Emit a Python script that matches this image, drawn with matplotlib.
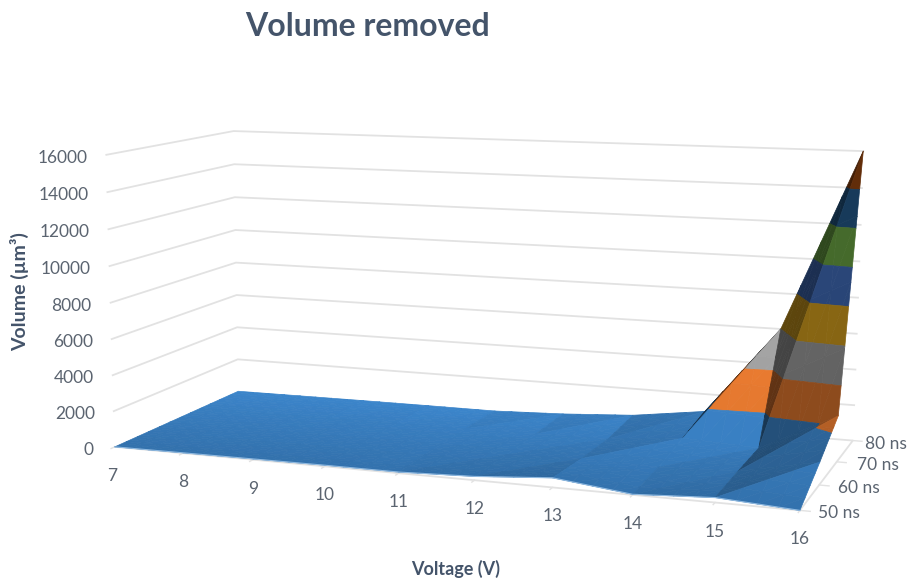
import numpy as np
import matplotlib
matplotlib.use("Agg")
import matplotlib.pyplot as plt
from mpl_toolkits.mplot3d import proj3d
from mpl_toolkits.mplot3d.art3d import Poly3DCollection

# Chart values
voltages = [7, 8, 9, 10, 11, 12, 13, 14, 15, 16]
pulse_ns = [50, 60, 70, 80]
pulse_labels = ["50 ns", "60 ns", "70 ns", "80 ns"]
volume_50ns = [0, 20, 40, 60, 60, 200, 500, 30, 250, 0]
volume_60ns = [0, 30, 50, 70, 90, 150, 300, 200, 350, 1200]
volume_70ns = [0, 30, 60, 90, 110, 150, 220, 600, 400, 2500]
volume_80ns = [0, 20, 40, 50, 50, 200, 450, 1000, 6000, 16000]
volume_ticks = [0, 2000, 4000, 6000, 8000, 10000, 12000, 14000, 16000]
band_colors = ["#3c86cc", "#ED7D31", "#A5A5A5", "#E0A820",
               "#4472C4", "#70AD47", "#255E91", "#9E480E"]

W, H = 907, 579
TEXT = "#5b6470"
HEAD = "#44546A"
GRID = "#e2e2e2"
plt.rcParams["font.family"] = ["Lato", "DejaVu Sans"]

fig = plt.figure(figsize=(W / 100, H / 100), dpi=100, facecolor="white")
ax = fig.add_axes([0, 0, 1, 1], projection="3d")
ax.set_axis_off()
ax.set_proj_type("ortho")
ax.apply_aspect = lambda position=None: None
ax.set_position([0, 0, 1, 1])
ax.autoscale(False)
ax.computed_zorder = False
ax.patch.set_visible(False)

# Camera: where the plot box corners land on the canvas, solved as a homography.
anchors = [((7, 50, 0), (116, 447)), ((16, 50, 0), (800, 510)),
           ((16, 80, 0), (853, 441)), ((7, 80, 0), (237, 391)),
           ((7, 50, 16000), (105, 155)), ((7, 80, 16000), (235, 131)),
           ((16, 80, 16000), (863, 151))]
norm = np.array([[1 / 9, 0, 0, -7 / 9], [0, 1 / 30, 0, -5 / 3],
                 [0, 0, 1 / 16000, 0], [0, 0, 0, 1]])
rows, rhs = [], []
for world, (px, py) in anchors:
    u, v, h, _ = norm @ np.array([*world, 1.0])
    rows.append([u, v, h, 1, 0, 0, 0, 0, -px * u, -px * v, -px * h])
    rhs.append(px)
    rows.append([0, 0, 0, 0, u, v, h, 1, -py * u, -py * v, -py * h])
    rhs.append(py)
sol = np.linalg.lstsq(np.array(rows, float), np.array(rhs, float), rcond=None)[0]
cam = np.append(sol, 1.0).reshape(3, 4) @ norm

# Canvas pixels (y down) to the 2D data space of the axes.
inv = ax.transData.inverted()
o = inv.transform((0, H))
e = inv.transform((W, 0))
sx, sy = (e[0] - o[0]) / W, (e[1] - o[1]) / H
M = np.vstack([sx * cam[0] + o[0] * cam[2], sy * cam[1] + o[1] * cam[2],
               0.3 * norm[1] + 0.1 * norm[3], cam[2]])
ax.get_proj = lambda: M


def to_canvas(x, y, z):
    """2D axes coordinates of a point given in chart units."""
    xs, ys, _ = proj3d.proj_transform(x, y, z, M)
    return float(xs), float(ys)


def label(x, y, z, text, dx, dy, ha="center", **kw):
    """Text offset by (dx, dy) canvas pixels from a point in chart units."""
    ax.annotate(text, xy=to_canvas(x, y, z), xytext=(dx * 0.72, -dy * 0.72),
                textcoords="offset points", ha=ha, va="center",
                annotation_clip=False, **kw)


# Gridlines on the left and back walls
for z in volume_ticks[1:]:
    ax.plot([7, 7, 16], [50, 80, 80], [z, z, z], color=GRID, lw=1.3, zorder=1.5)

# Floor outline and tick marks
ax.plot([7, 16], [50, 50], [0, 0], color=GRID, lw=1.3, zorder=1.5)
ax.plot([16, 16, 15], [50, 80, 80], [0, 0, 0], color=GRID, lw=1.3, zorder=1.5)
for v in voltages:
    ax.plot([v, v], [50, 49.2], [0, 0], color=GRID, lw=1, zorder=1.5)
for t in pulse_ns:
    ax.plot([16, 16.12], [t, t], [0, 0], color=GRID, lw=1, zorder=1.5)


def clip_band(tri, lo, hi):
    """Portion of a triangle whose height lies between lo and hi."""
    poly = tri
    for limit, sign in ((lo, 1), (hi, -1)):
        out = []
        for i, p in enumerate(poly):
            q = poly[(i + 1) % len(poly)]
            dp, dq = sign * (p[2] - limit), sign * (q[2] - limit)
            if dp >= 0:
                out.append(p)
            if dp * dq < 0:
                out.append(p + (q - p) * dp / (dp - dq))
        poly = out
        if not poly:
            break
    return poly


def facet_light(tri):
    """Facet brightness: surfaces climbing along the voltage axis turn away."""
    a, b, c = tri
    mat = np.array([[b[0] - a[0], b[1] - a[1]], [c[0] - a[0], c[1] - a[1]]], float)
    dzdv = np.linalg.solve(mat, [b[2] - a[2], c[2] - a[2]])[0]
    return max(1 / (1 + max(dzdv, 0) / 3500), 0.42)


def subdivide(tri, levels):
    """Split a triangle so that brightness can change smoothly across it."""
    parts = [tri]
    for _ in range(levels):
        nxt = []
        for a, b, c in parts:
            ab, bc, ca = (a + b) / 2, (b + c) / 2, (c + a) / 2
            nxt += [np.array(s) for s in ((a, ab, ca), (ab, b, bc), (ca, bc, c), (ab, bc, ca))]
        parts = nxt
    return parts


surface = np.array([volume_50ns, volume_60ns, volume_70ns, volume_80ns], float)
order = 2.0
for r in range(len(pulse_ns) - 2, -1, -1):
    for c in range(len(voltages) - 1):
        pt = lambda i, j: np.array([voltages[j], pulse_ns[i], surface[i, j]], float)
        # Each cell is split along the diagonal rising to the back right
        facets = [(pt(r, c), pt(r + 1, c), pt(r + 1, c + 1)),
                  (pt(r, c), pt(r, c + 1), pt(r + 1, c + 1))]
        for facet in facets:
            tri = np.array(facet)
            light = facet_light(tri)
            polys, faces = [], []
            for sub in subdivide(tri, 2):
                depth = 0.85 + 0.15 * (np.mean(sub[:, 1]) - 50) / 30
                for k, col in enumerate(band_colors):
                    part = clip_band(list(sub), volume_ticks[k], volume_ticks[k + 1])
                    if len(part) >= 3:
                        polys.append(np.array(part))
                        rgb = np.array(matplotlib.colors.to_rgb(col)) * light * depth
                        faces.append(tuple(np.clip(rgb, 0, 1)))
            coll = Poly3DCollection(polys, facecolors=faces, edgecolors=faces,
                                    linewidths=0.5, zorder=order)
            ax.add_collection3d(coll, autolim=False)
            order += 0.01

# Pale line along the front edge of the surface
ax.plot(voltages, [50] * len(voltages), volume_50ns, color="#8fb9e0", lw=0.8, zorder=order)

# Volume tick labels, right-aligned against the wall
for z in volume_ticks:
    label(7, 50, z, str(z), -19 if z else -21, 3, ha="right", fontsize=12.5, color=TEXT)

# Voltage tick labels
for v in voltages:
    label(v, 50, 0, str(v), -3 if v == 7 else 0, 29, fontsize=12.5, color=TEXT)

# Pulse length tick labels
for t, s, dx in zip(pulse_ns, pulse_labels, (39, 40, 41, 33)):
    label(16, t, 0, s, dx, 3, fontsize=12.5, color=TEXT)

fig.text(368 / W, 1 - 27 / H, "Volume removed", ha="center", va="center",
         fontsize=23, fontweight="bold", color=HEAD)
fig.text(20 / W, 1 - 292 / H, "Volume (µm³)", rotation=90, ha="center", va="center",
         fontsize=14, fontweight="bold", color=HEAD)
fig.text(456 / W, 1 - 569 / H, "Voltage (V)", ha="center", va="center",
         fontsize=13, fontweight="bold", color=HEAD)

fig.savefig("out.png", dpi=100)
